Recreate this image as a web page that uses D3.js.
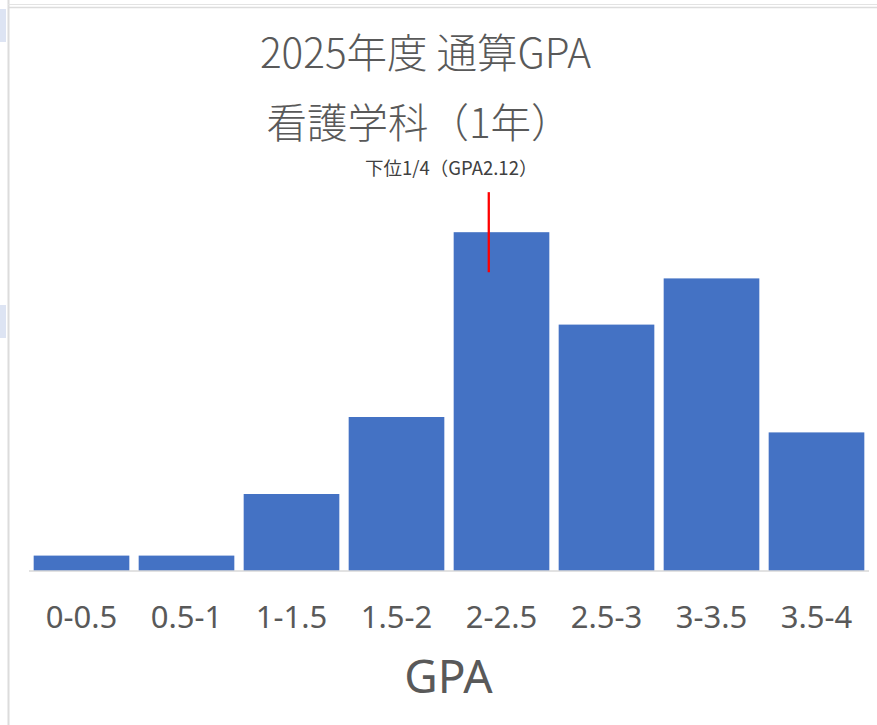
<!DOCTYPE html>
<html>
<head>
<meta charset="utf-8">
<script src="https://cdn.jsdelivr.net/npm/d3@7"></script>
<style>
  html, body { margin: 0; padding: 0; background: #ffffff; }
  svg { display: block; }
</style>
</head>
<body>
<svg id="chart" width="877" height="725"></svg>
<script>
// ---- data ----
const categories = ["0-0.5", "0.5-1", "1-1.5", "1.5-2", "2-2.5", "2.5-3", "3-3.5", "3.5-4"];
const counts = [1, 1, 5, 10, 22, 16, 19, 9];
const titleLines = ["2025年度 通算GPA", "看護学科（1年）"];
const xAxisTitle = "GPA";
const markerLabel = "下位1/4（GPA2.12）";
const markerCategory = "2-2.5";
const markerRange = [19.4, 24.6]; // vertical extent of the red marker in count units

// ---- layout ----
const svg = d3.select("#chart");
const W = 877, H = 725;
const plot = { left: 29, right: 869, top: 186, bottom: 571 };

// window chrome (screenshot frame)
svg.append("rect").attr("x", 0).attr("y", 0).attr("width", W).attr("height", H).attr("fill", "#ffffff");
svg.append("line").attr("x1", 8.5).attr("x2", 8.5).attr("y1", 0).attr("y2", H).attr("stroke", "#dcdcdc").attr("stroke-width", 2);
svg.append("line").attr("x1", 8).attr("x2", W).attr("y1", 4.5).attr("y2", 4.5).attr("stroke", "#e3e3e3").attr("stroke-width", 1);
svg.append("line").attr("x1", 8).attr("x2", W).attr("y1", 7.5).attr("y2", 7.5).attr("stroke", "#dcdcdc").attr("stroke-width", 1.5);
svg.append("rect").attr("x", 0).attr("y", 9).attr("width", 6).attr("height", 33).attr("fill", "#dde4f3");
svg.append("rect").attr("x", 0).attr("y", 305).attr("width", 6).attr("height", 33).attr("fill", "#dde4f3");

const x = d3.scaleBand()
  .domain(categories)
  .range([plot.left, plot.right])
  .paddingInner(0.089)
  .paddingOuter(0.0445);

const y = d3.scaleLinear()
  .domain([0, 25])
  .range([plot.bottom, plot.top]);

const data = categories.map((c, i) => ({ cat: c, v: counts[i] }));

// bars
svg.append("g").selectAll("rect")
  .data(data)
  .join("rect")
  .attr("x", d => x(d.cat))
  .attr("y", d => y(d.v))
  .attr("width", x.bandwidth())
  .attr("height", d => y(0) - y(d.v))
  .attr("fill", "#4472c4");

// x axis
const xAxis = svg.append("g")
  .attr("transform", `translate(0,${plot.bottom})`)
  .call(d3.axisBottom(x).tickSize(0).tickPadding(0));
xAxis.select(".domain").attr("stroke", "#d9d9d9").attr("stroke-width", 1.5)
  .attr("d", `M${plot.left},0H${plot.right}`);
xAxis.selectAll(".tick text")
  .attr("y", 57)
  .attr("dy", 0)
  .attr("fill", "#595959")
  .style("font-family", "'Noto Sans', 'Open Sans', sans-serif")
  .style("font-size", "31px");

// axis title
svg.append("text")
  .attr("x", 448.5).attr("y", 693)
  .attr("text-anchor", "middle")
  .attr("fill", "#595959")
  .style("font-family", "'Noto Sans', sans-serif")
  .style("font-size", "46px")
  .text(xAxisTitle);

// chart titles
svg.append("g").selectAll("text")
  .data(titleLines)
  .join("text")
  .attr("x", (d, i) => i === 0 ? 425.5 : 419)
  .attr("y", (d, i) => i === 0 ? 68 : 138)
  .attr("text-anchor", "middle")
  .attr("fill", "#595959")
  .style("font-family", "'Noto Sans CJK JP', sans-serif")
  .style("font-weight", 300)
  .style("font-size", "40.5px")
  .text(d => d);

// marker
const mx = x(markerCategory) + x.bandwidth() * 0.367;
svg.append("line")
  .attr("x1", mx).attr("x2", mx)
  .attr("y1", y(markerRange[1])).attr("y2", y(markerRange[0]))
  .attr("stroke", "#ff0000").attr("stroke-width", 2.3);

svg.append("text")
  .attr("x", 365).attr("y", 175)
  .attr("fill", "#404040")
  .style("font-family", "'Noto Sans CJK JP', sans-serif")
  .style("font-size", "18.5px")
  .text(markerLabel);
</script>
</body>
</html>
